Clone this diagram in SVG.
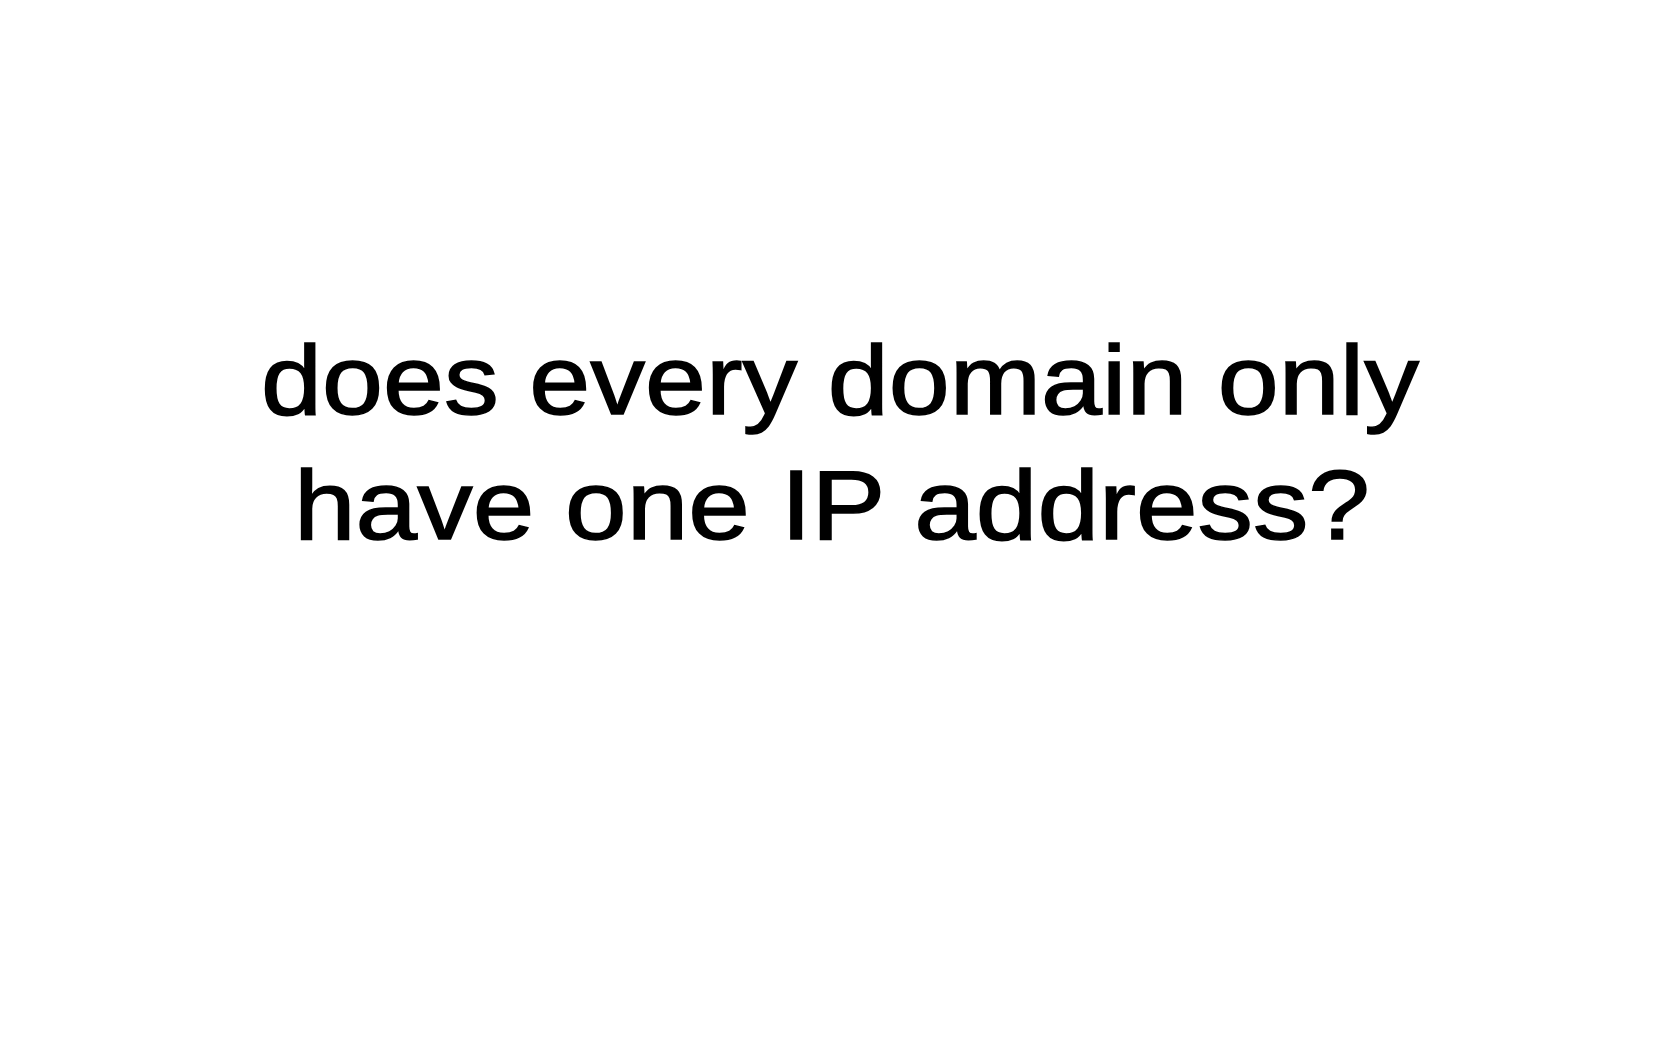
<svg xmlns="http://www.w3.org/2000/svg" width="1667" height="1042" viewBox="0 0 1667 1042">
<style>
.t{font-family:"Liberation Sans","DejaVu Sans",sans-serif;font-size:99px;fill:#000;stroke:#000;stroke-width:1.5;text-anchor:middle}
</style>
<rect x="0" y="0" width="1667" height="1042" fill="#ffffff"/>
<g id="question">
<text class="t" x="840" y="414" textLength="1158" lengthAdjust="spacingAndGlyphs">does every domain only</text>
<text class="t" x="832" y="539" textLength="1076" lengthAdjust="spacingAndGlyphs">have one IP address?</text>
</g>
</svg>
